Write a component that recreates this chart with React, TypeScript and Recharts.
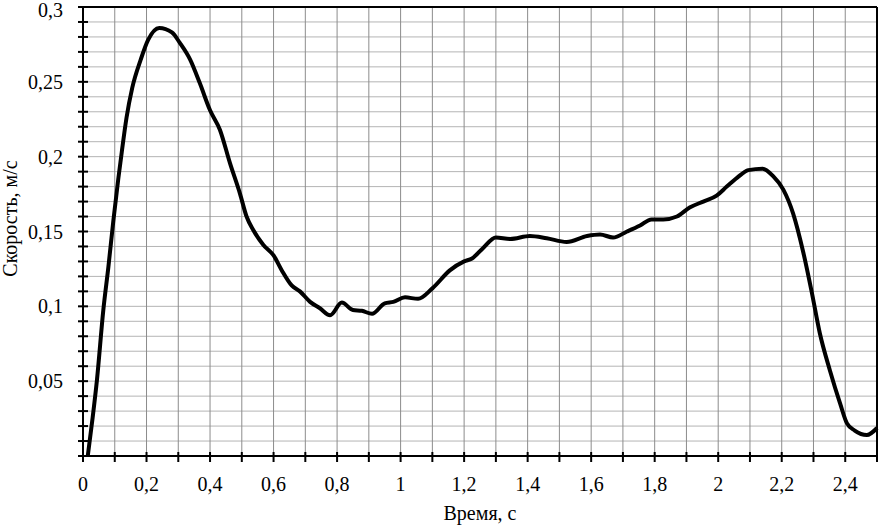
import { LineChart, Line, XAxis, YAxis, CartesianGrid, ReferenceLine } from 'recharts'

const time = [
  0.015, 0.03, 0.044, 0.064, 0.08, 0.096, 0.111, 0.122, 0.137, 0.155, 0.182, 0.205, 0.24,
  0.28, 0.305, 0.337, 0.368, 0.4, 0.431, 0.463, 0.494, 0.515, 0.536, 0.568, 0.6, 0.626, 0.657, 0.683,
  0.715, 0.746, 0.778, 0.815, 0.85, 0.878, 0.91, 0.95, 0.977, 1.014, 1.055, 1.1, 1.155, 1.2, 1.225,
  1.26, 1.3, 1.345, 1.407, 1.46, 1.523, 1.587, 1.628, 1.669, 1.713, 1.754, 1.79, 1.827, 1.87, 1.91,
  1.953, 1.995, 2.027, 2.06, 2.095, 2.14, 2.173, 2.205, 2.236, 2.268, 2.295, 2.32, 2.352, 2.384, 2.405,
  2.43, 2.468, 2.5
]

const speed = [
  0, 0.025, 0.051, 0.0975, 0.1265, 0.158, 0.185, 0.203, 0.226, 0.246, 0.265, 0.278, 0.286,
  0.283, 0.276, 0.265, 0.249, 0.231, 0.218, 0.1955, 0.1755, 0.16, 0.151, 0.141, 0.134, 0.124, 0.114, 0.11,
  0.103, 0.0987, 0.094, 0.1025, 0.0975, 0.097, 0.095, 0.102, 0.103, 0.106, 0.105, 0.112, 0.124, 0.13, 0.132,
  0.139, 0.146, 0.145, 0.147, 0.1455, 0.143, 0.147, 0.148, 0.146, 0.15, 0.154, 0.158, 0.158, 0.16, 0.166,
  0.17, 0.174, 0.18, 0.186, 0.191, 0.192, 0.187, 0.178, 0.162, 0.136, 0.109, 0.082, 0.057, 0.035, 0.022,
  0.017, 0.014, 0.0187
]

const xTicks = [
  0, 0.1, 0.2, 0.3, 0.4, 0.5, 0.6, 0.7, 0.8, 0.9, 1, 1.1, 1.2, 1.3, 1.4, 1.5, 1.6, 1.7, 1.8, 1.9,
  2, 2.1, 2.2, 2.3, 2.4, 2.5
]
const xLabels = [0, 0.2, 0.4, 0.6, 0.8, 1, 1.2, 1.4, 1.6, 1.8, 2, 2.2, 2.4]

const yTicks = [
  0, 0.01, 0.02, 0.03, 0.04, 0.05, 0.06, 0.07, 0.08, 0.09, 0.1, 0.11, 0.12, 0.13, 0.14, 0.15,
  0.16, 0.17, 0.18, 0.19, 0.2, 0.21, 0.22, 0.23, 0.24, 0.25, 0.26, 0.27, 0.28, 0.29, 0.3
]
const yLabels = [0.05, 0.1, 0.15, 0.2, 0.25, 0.3]

const data = time.map((t, i) => ({ t, v: speed[i] }))

const FONT = 'Liberation Serif, Times New Roman, serif'
const txt = { fontFamily: FONT, fontSize: 20 }

const fmt = (v: number) => String(v).replace('.', ',')

const has = (list: number[], v: number) => list.some(l => Math.abs(l - v) < 1e-6)

function XTick(props: any) {
  const { x, y, payload } = props
  return (
    <g>
      <line x1={x} x2={x} y1={y - 4} y2={y + 6} stroke="#000" strokeWidth={2} />
      {has(xLabels, payload.value) && (
        <text x={x} y={y + 35} textAnchor="middle" style={txt} fill="#000">
          {fmt(payload.value)}
        </text>
      )}
    </g>
  )
}

function YTick(props: any) {
  const { x, y, payload } = props
  // top label sits right at the page edge, keep it inside
  const ty = Math.max(y, 10)
  return (
    <g>
      <line x1={x - 5} x2={x + 5} y1={y} y2={y} stroke="#000" strokeWidth={2} />
      {has(yLabels, payload.value) && (
        <text x={x - 20} y={ty} dy="0.35em" textAnchor="end" style={txt} fill="#000">
          {fmt(payload.value)}
        </text>
      )}
    </g>
  )
}

function XTitle(props: any) {
  const vb = props.viewBox
  return (
    <text x={vb.x + vb.width / 2} y={vb.y + 64} textAnchor="middle" style={txt} fill="#000">
      Время, с
    </text>
  )
}

function YTitle(props: any) {
  const vb = props.viewBox
  const cx = 17
  const cy = vb.y + vb.height / 2 - 13
  return (
    <text x={cx} y={cy} textAnchor="middle" transform={`rotate(-90 ${cx} ${cy})`} style={txt} fill="#000">
      Скорость, м/с
    </text>
  )
}

export default function App() {
  return (
    <div style={{ position: 'absolute', left: 0, top: 0, background: '#fff', fontFamily: FONT }}>
      <LineChart width={880} height={526} data={data} margin={{ top: 7, right: 3, left: 0, bottom: 0 }}>
        <CartesianGrid horizontal={true} vertical={false} stroke="#b4b4b4" strokeWidth={1} />
        <CartesianGrid horizontal={false} vertical={true} stroke="#8c8c8c" strokeWidth={1} />
        <XAxis
          dataKey="t"
          type="number"
          domain={[0, 2.5]}
          ticks={xTicks}
          interval={0}
          height={70}
          tickSize={0}
          tickMargin={0}
          tickLine={false}
          axisLine={{ stroke: '#000', strokeWidth: 2 }}
          tick={<XTick />}
          label={<XTitle />}
        />
        <YAxis
          type="number"
          domain={[0, 0.3]}
          ticks={yTicks}
          interval={0}
          width={83}
          tickSize={0}
          tickMargin={0}
          tickLine={false}
          axisLine={{ stroke: '#000', strokeWidth: 2 }}
          tick={<YTick />}
          label={<YTitle />}
        />
        <ReferenceLine y={0.3} stroke="#000" strokeWidth={2} />
        <ReferenceLine x={2.5} stroke="#000" strokeWidth={2} />
        <Line
          type="monotone"
          dataKey="v"
          stroke="#000"
          strokeWidth={4}
          dot={false}
          isAnimationActive={false}
        />
      </LineChart>
    </div>
  )
}
